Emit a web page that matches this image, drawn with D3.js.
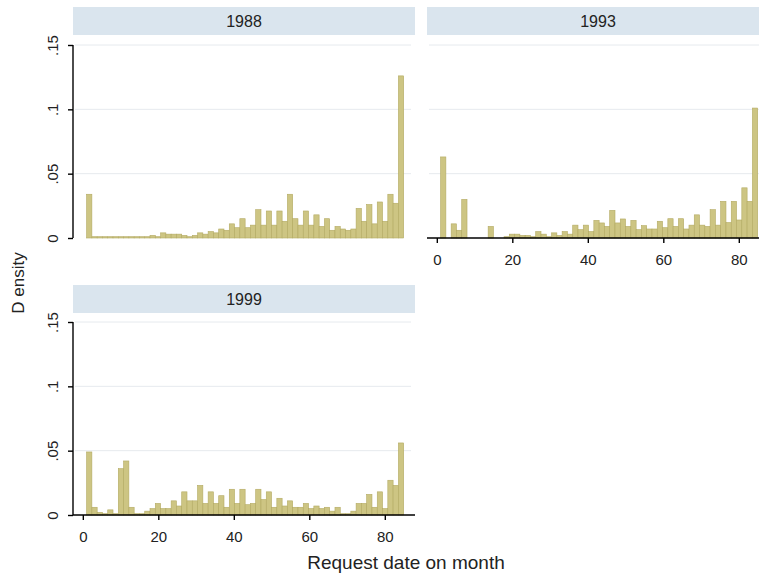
<!DOCTYPE html>
<html>
<head>
<meta charset="utf-8">
<script src="https://cdn.jsdelivr.net/npm/d3@7"></script>
<style>
    body { margin: 0; background: #fff; }
    text { font-family: "Liberation Sans", Arial, sans-serif; fill: #222; }
</style>
</head>
<body>
<div id="chart"><svg width="759" height="581"></svg></div>
<script>
// histogram bins: 60 bins of 1.4 months starting at month 1
var binStart = 1;
var binWidth = 1.4;

var years = ['1988', '1993', '1999'];

var density1988 = [
    .034, .001, .001, .001, .001, .001, .001, .001, .001, .001,
    .001, .001, .002, .001, .004, .003, .003, .003, .002, .001,
    .002, .004, .003, .005, .004, .007, .006, .011, .008, .015,
    .008, .010, .022, .010, .021, .010, .021, .013, .034, .015,
    .010, .021, .010, .018, .009, .015, .006, .009, .007, .006,
    .007, .023, .013, .026, .011, .028, .013, .034, .027, .126
];

var density1993 = [
    .063, .000, .011, .006, .030, .000, .000, .000, .000, .009,
    .000, .000, .001, .003, .003, .002, .002, .001, .005, .003,
    .001, .004, .002, .005, .003, .010, .0065, .010, .005, .0137,
    .0117, .009, .0215, .0117, .0148, .009, .0137, .0065, .0096, .007,
    .007, .013, .008, .015, .009, .015, .007, .010, .018, .010,
    .009, .022, .010, .0285, .012, .0285, .014, .039, .0285, .101
];

var density1999 = [
    .049, .006, .002, .001, .004, .001, .036, .042, .006, .001,
    .001, .003, .005, .009, .005, .005, .011, .007, .018, .011,
    .011, .023, .009, .018, .009, .015, .006, .020, .009, .020,
    .008, .009, .020, .012, .018, .006, .013, .007, .011, .006,
    .006, .009, .005, .007, .005, .006, .003, .006, .001, .001,
    .003, .009, .009, .016, .006, .018, .005, .027, .023, .056
];

var xTicks = [0, 20, 40, 60, 80];
var yTicks = [0, .05, .1, .15];
var yTickLabels = ['0', '.05', '.1', '.15'];

var xTitle = 'Request date on month';
var yTitle = 'D ensity';

(function () {
    var svg = d3.select('#chart').select('svg');

    var barFill = '#cdc583',
        barStroke = '#b3aa62',
        stripFill = '#dae5ee',
        gridColor = '#e6eaee';

    var panelW = 342,
        stripH = 28;

    // panel layout: left edge, strip top, baseline, which axes are drawn
    var panels = [
        {year: years[0], data: density1988, x0: 73, top: 7, base: 238, yAxis: true, xAxis: false},
        {year: years[1], data: density1993, x0: 427, top: 7, base: 238, yAxis: false, xAxis: true},
        {year: years[2], data: density1999, x0: 73, top: 285, base: 515, yAxis: true, xAxis: true}
    ];

    panels.forEach(function (p) {
        var g = svg.append('g');

        var xScale = d3.scaleLinear().domain([-2.6, 88]).range([p.x0, p.x0 + panelW]);
        var yScale = d3.scaleLinear().domain([0, .15]).range([p.base, p.base - 193]);

        // strip header
        g.append('rect')
            .attr('x', p.x0).attr('y', p.top)
            .attr('width', panelW).attr('height', stripH)
            .attr('fill', stripFill);
        g.append('text')
            .attr('x', p.x0 + panelW / 2).attr('y', p.top + stripH / 2)
            .attr('dy', '0.36em')
            .attr('text-anchor', 'middle')
            .style('font-size', '16px')
            .text(p.year);

        // grid lines
        g.selectAll('.grid')
            .data(yTicks.slice(1))
            .enter()
            .append('line')
            .attr('x1', p.x0 + 2).attr('x2', p.x0 + panelW - 4)
            .attr('y1', function (d) { return yScale(d); })
            .attr('y2', function (d) { return yScale(d); })
            .attr('stroke', gridColor).attr('stroke-width', 1);

        // bars
        g.selectAll('.bar')
            .data(p.data)
            .enter()
            .append('rect')
            .attr('x', function (d, i) { return xScale(binStart + i * binWidth); })
            .attr('width', function (d, i) {
                return xScale(binStart + (i + 1) * binWidth) - xScale(binStart + i * binWidth);
            })
            .attr('y', function (d) { return yScale(d); })
            .attr('height', function (d) { return yScale(0) - yScale(d); })
            .attr('fill', barFill)
            .attr('stroke', barStroke)
            .attr('stroke-width', 0.6);

        if (p.yAxis) {
            var yAxis = d3.axisLeft(yScale)
                .tickValues(yTicks)
                .tickSize(5)
                .tickFormat(function (d, i) { return yTickLabels[i]; });
            var ya = g.append('g')
                .attr('transform', 'translate(' + p.x0 + ',0)')
                .call(yAxis);
            ya.select('.domain').attr('stroke', '#000').attr('stroke-width', 1.4)
                .attr('d', 'M0,' + yScale(.15) + 'V' + yScale(0));
            ya.selectAll('.tick line').attr('stroke', '#000').attr('stroke-width', 1.4);
            ya.selectAll('.tick text')
                .style('font-size', '15px')
                .style('font-family', '"Liberation Sans", Arial, sans-serif')
                .attr('fill', '#222')
                .attr('x', null).attr('dy', null)
                .attr('text-anchor', 'middle')
                .attr('transform', 'translate(-20,0) rotate(-90)')
                .attr('y', 0)
                .attr('dy', '0.36em');
        }

        if (p.xAxis) {
            var xAxis = d3.axisBottom(xScale)
                .tickValues(xTicks)
                .tickSize(5)
                .tickFormat(d3.format('d'));
            var xa = g.append('g')
                .attr('transform', 'translate(0,' + p.base + ')')
                .call(xAxis);
            xa.select('.domain').attr('stroke', '#000').attr('stroke-width', 1.4)
                .attr('d', 'M' + xScale(-2.6) + ',0H' + xScale(88));
            xa.selectAll('.tick line').attr('stroke', '#000').attr('stroke-width', 1.4);
            xa.selectAll('.tick text')
                .style('font-size', '15px')
                .style('font-family', '"Liberation Sans", Arial, sans-serif')
                .attr('fill', '#222')
                .attr('y', 16);
        }
    });

    // axis titles
    svg.append('text')
        .attr('x', 406).attr('y', 569)
        .attr('text-anchor', 'middle')
        .style('font-size', '19px')
        .text(xTitle);

    svg.append('text')
        .attr('transform', 'translate(24,283) rotate(-90)')
        .attr('text-anchor', 'middle')
        .style('font-size', '17px')
        .text(yTitle);

}).call(this);
</script>
</body>
</html>
